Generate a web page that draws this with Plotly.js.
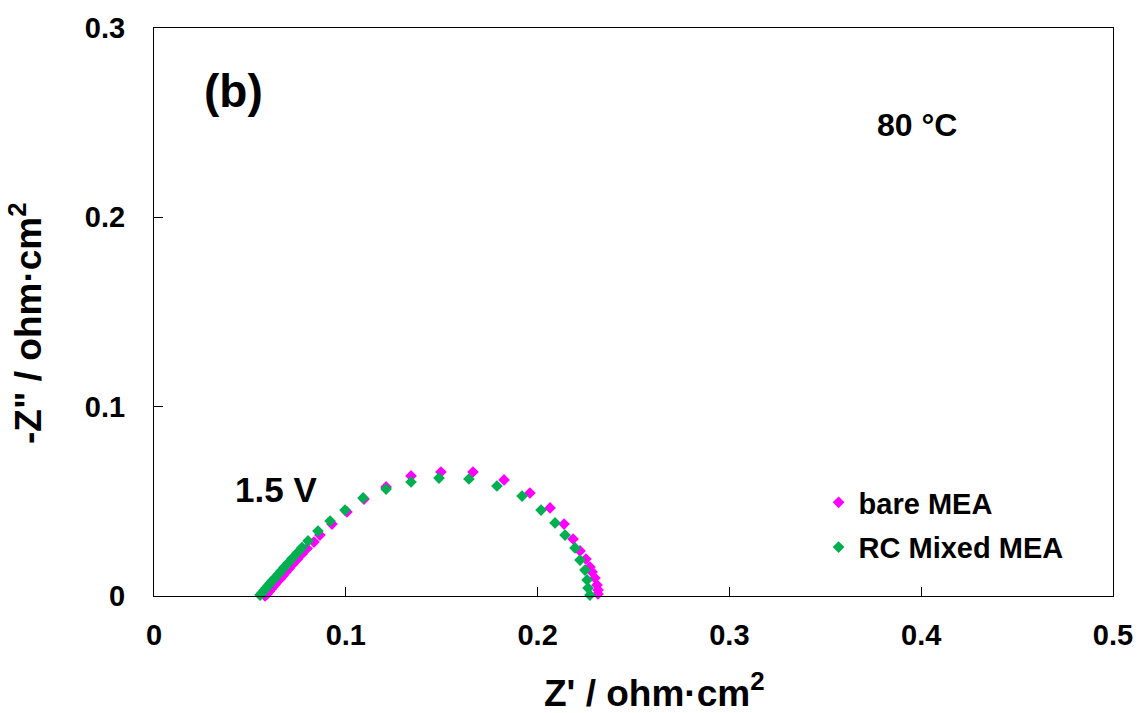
<!DOCTYPE html>
<html>
<head>
<meta charset="utf-8">
<script src="https://cdn.plot.ly/plotly-3.0.1.min.js"></script>
<style>
  html, body { margin: 0; padding: 0; background: #fff; }
  #chart { width: 1139px; height: 713px; }
</style>
</head>
<body>
<div id="chart"></div>
<script>
// Nyquist impedance spectra at 1.5 V, 80 °C
const seriesNames = ['bare MEA', 'RC Mixed MEA'];

const bareRe = [0.0579, 0.0589, 0.0600, 0.0610, 0.0620, 0.0631, 0.0641, 0.0657, 0.0673, 0.0688,
                0.0704, 0.0725, 0.0746, 0.0772, 0.0798, 0.0834, 0.0865, 0.0928, 0.1006, 0.1095,
                0.1210, 0.1340, 0.1496, 0.1663, 0.1825, 0.1960, 0.2065, 0.2138, 0.2185, 0.2221,
                0.2252, 0.2273, 0.2284, 0.2299, 0.2310, 0.2315, 0.2315];
const bareIm = [0.0000, 0.0011, 0.0024, 0.0037, 0.0048, 0.0061, 0.0074, 0.0090, 0.0108, 0.0127,
                0.0145, 0.0169, 0.0193, 0.0222, 0.0251, 0.0285, 0.0322, 0.0380, 0.0444, 0.0512,
                0.0576, 0.0634, 0.0655, 0.0655, 0.0613, 0.0544, 0.0465, 0.0380, 0.0301, 0.0238,
                0.0195, 0.0153, 0.0127, 0.0095, 0.0058, 0.0032, 0.0011];

const mixedRe = [0.0553, 0.0563, 0.0574, 0.0584, 0.0594, 0.0605, 0.0615, 0.0631, 0.0647, 0.0662,
                 0.0678, 0.0699, 0.0720, 0.0746, 0.0772, 0.0803, 0.0855, 0.0918, 0.0996, 0.1090,
                 0.1210, 0.1340, 0.1486, 0.1642, 0.1788, 0.1919, 0.2018, 0.2091, 0.2143, 0.2195,
                 0.2221, 0.2247, 0.2258, 0.2263, 0.2273];
const mixedIm = [0.0005, 0.0016, 0.0029, 0.0042, 0.0053, 0.0066, 0.0079, 0.0095, 0.0114, 0.0132,
                 0.0151, 0.0174, 0.0198, 0.0227, 0.0256, 0.0291, 0.0343, 0.0396, 0.0454, 0.0518,
                 0.0565, 0.0602, 0.0623, 0.0618, 0.0581, 0.0528, 0.0454, 0.0386, 0.0322, 0.0254,
                 0.0190, 0.0137, 0.0085, 0.0042, 0.0005];

const xTicks = [0, 0.1, 0.2, 0.3, 0.4, 0.5];
const xTickText = ['0', '0.1', '0.2', '0.3', '0.4', '0.5'];
const yTicks = [0, 0.1, 0.2, 0.3];
const yTickText = ['0', '0.1', '0.2', '0.3'];

const xTitle = "Z' / ohm·cm<sup>2</sup>";
const yTitle = '-Z" / ohm·cm<sup>2</sup>';

const FONT = 'Liberation Sans, Arial, sans-serif';
const colors = ['#FF00FF', '#00B050'];

const traces = [
  {
    x: bareRe, y: bareIm, name: seriesNames[0], type: 'scatter', mode: 'markers',
    legendgroup: 'a',
    marker: { symbol: 'diamond', size: 9, color: colors[0] },
    cliponaxis: false
  },
  {
    x: mixedRe, y: mixedIm, name: seriesNames[1], type: 'scatter', mode: 'markers',
    legendgroup: 'b',
    marker: { symbol: 'diamond', size: 9, color: colors[1] },
    cliponaxis: false
  }
];

const axisCommon = {
  showgrid: false, zeroline: false,
  showline: true, linecolor: '#000', linewidth: 1, mirror: true,
  ticks: 'inside', ticklen: 9, tickwidth: 1, tickcolor: '#000',
  tickfont: { family: FONT, size: 29, color: '#000', weight: 'bold' },
  fixedrange: true, automargin: false
};

const bold = (size) => ({ family: FONT, size: size, color: '#000', weight: 'bold' });

const layout = {
  width: 1139, height: 713,
  paper_bgcolor: '#fff', plot_bgcolor: '#fff',
  margin: { l: 154, r: 26, t: 28, b: 117 },
  showlegend: true,
  legend: {
    x: 0.693, y: 0.2095, xanchor: 'left', yanchor: 'top',
    font: bold(29),
    tracegroupgap: 4, traceorder: 'grouped',
    bgcolor: 'rgba(0,0,0,0)', itemwidth: 30
  },
  xaxis: Object.assign({}, axisCommon, {
    range: [0, 0.5], tickvals: xTicks, ticktext: xTickText,
    ticklabelstandoff: 13
  }),
  yaxis: Object.assign({}, axisCommon, {
    range: [0, 0.3], tickvals: yTicks, ticktext: yTickText,
    ticklabelstandoff: 22
  }),
  annotations: [
    { x: 0.5224, y: -0.1655, xref: 'paper', yref: 'paper', text: xTitle, showarrow: false,
      xanchor: 'center', yanchor: 'middle', font: bold(37) },
    { x: -0.1335, y: 0.4806, xref: 'paper', yref: 'paper', text: yTitle, showarrow: false,
      textangle: -90, xanchor: 'center', yanchor: 'middle', font: bold(37) },
    { x: 0.0412, y: 0.2665, xref: 'x', yref: 'y', text: '(b)', showarrow: false,
      font: bold(46) },
    { x: 0.3978, y: 0.2488, xref: 'x', yref: 'y', text: '80 °C', showarrow: false,
      font: bold(32) },
    { x: 0.0636, y: 0.056, xref: 'x', yref: 'y', text: '1.5 V', showarrow: false,
      font: bold(35) }
  ]
};

Plotly.newPlot('chart', traces, layout, { displayModeBar: false, staticPlot: true });
</script>
</body>
</html>
